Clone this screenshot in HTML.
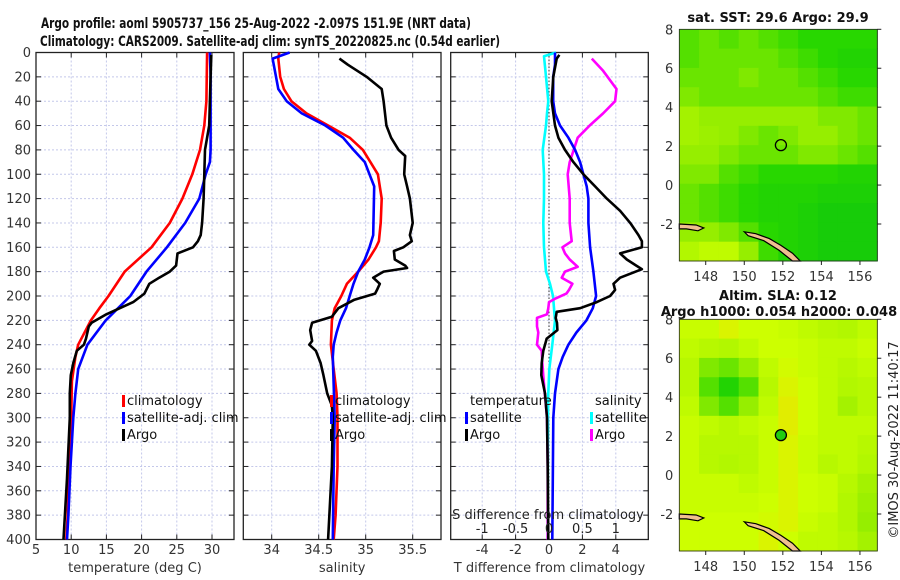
<!DOCTYPE html>
<html><head><meta charset="utf-8"><style>
html,body{margin:0;padding:0;background:#fff;}
svg{display:block;font-family:"DejaVu Sans","Liberation Sans",sans-serif;}
</style></head><body>
<svg id="chart" width="900" height="580" viewBox="0 0 900 580" xmlns="http://www.w3.org/2000/svg">
<rect width="900" height="580" fill="#fff"/>
<text x="256" y="28" font-size="14" font-weight="bold" text-anchor="middle" textLength="430" lengthAdjust="spacingAndGlyphs" fill="#111">Argo profile: aoml 5905737_156 25-Aug-2022 -2.097S 151.9E (NRT data)</text>
<text x="270" y="46" font-size="14" font-weight="bold" text-anchor="middle" textLength="460" lengthAdjust="spacingAndGlyphs" fill="#111">Climatology: CARS2009. Satellite-adj clim: synTS_20220825.nc (0.54d earlier)</text>
<g id="layer"></g>
</svg>
<script>
// ---------- data ----------
const depthTicks=[0,20,40,60,80,100,120,140,160,180,200,220,240,260,280,300,320,340,360,380,400];
const tTicks=[5,10,15,20,25,30];
const sTicks=[34,34.5,35,35.5];
const tdTicks=[-4,-2,0,2,4];
const sdTicks=[-1,-0.5,0,0.5,1];
const sdTickLabels=["-1","-0.5","0","0.5","1"];

const climTdep=[0,40,60,80,100,120,140,160,180,200,210,220,240,250,270,300,340,380,400];
const climT=[29.3,29.2,28.9,28.3,27.2,25.8,24.0,21.4,17.6,15.3,14.0,12.8,11.0,10.6,10.1,10.0,9.7,9.5,9.3];
const satTdep=[0,20,80,90,100,120,140,160,180,200,220,240,260,280,300,340,380,400];
const satT=[29.7,29.8,29.8,29.7,29.1,28.2,26.2,23.6,20.7,18.4,14.9,12.3,11.0,10.6,10.3,9.9,9.6,9.4];
const argoTdep=[2,20,60,80,100,120,140,150,155,160,165,175,180,185,190,198,205,215,222,225,235,240,245,255,265,280,300,350,400];
const argoT=[29.9,29.8,29.6,29.0,28.9,28.8,28.6,28.4,28.0,27.3,25.1,24.9,24.0,22.5,21.1,20.4,18.8,15.0,12.9,12.5,12.1,11.8,10.8,10.3,9.95,9.8,9.8,9.4,8.9];

const climSdep=[0,5,20,30,40,50,60,70,80,90,100,120,140,155,160,170,180,190,200,210,220,240,260,280,300,340,380,400];
const climS=[34.08,34.07,34.09,34.13,34.21,34.37,34.60,34.83,34.97,35.05,35.13,35.17,35.16,35.14,35.11,35.03,34.92,34.80,34.74,34.67,34.64,34.63,34.66,34.69,34.70,34.70,34.68,34.66];
const satSdep=[0,5,30,40,50,60,70,80,90,100,110,150,160,170,180,190,200,210,220,230,240,250,300,340,400];
const satS=[34.19,34.01,34.07,34.16,34.32,34.57,34.76,34.87,34.99,35.04,35.09,35.08,35.04,34.99,34.92,34.87,34.83,34.79,34.73,34.69,34.66,34.65,34.67,34.66,34.65];
const argoSdep=[5,10,20,30,40,60,70,80,85,100,110,120,140,150,155,160,163,170,175,177,180,185,190,195,198,203,210,217,222,228,237,240,245,255,265,280,290,300,340,400];
const argoS=[34.72,34.81,35.01,35.17,35.19,35.22,35.27,35.35,35.42,35.41,35.44,35.47,35.50,35.47,35.49,35.40,35.30,35.31,35.42,35.44,35.19,35.08,35.15,35.12,35.10,34.88,34.71,34.64,34.43,34.41,34.43,34.40,34.47,34.52,34.55,34.59,34.64,34.65,34.64,34.60];

const dTsatDep=[0,10,20,40,50,60,70,80,90,100,110,120,140,160,180,200,210,220,230,240,250,260,280,300,400];
const dTsat=[0.36,0.36,0.25,0.25,0.36,0.66,1.16,1.56,1.86,2.06,2.26,2.36,2.36,2.46,2.66,2.82,2.62,2.24,1.64,1.16,0.82,0.56,0.36,0.26,0.2];
const dTargoDep=[2,5,20,40,60,70,80,90,100,110,120,130,140,150,155,160,165,170,178,180,185,190,195,200,205,210,213,218,222,228,235,240,245,255,265,280,300,340,400];
const dTargo=[0.62,0.46,0.26,0.16,0.36,0.56,0.96,1.46,2.06,2.76,3.46,4.26,4.86,5.36,5.56,5.56,4.26,4.66,5.56,5.2,4.26,3.86,3.96,3.66,2.86,1.86,0.46,0.40,0.48,0.5,-0.14,-0.24,-0.34,-0.44,-0.46,-0.24,-0.12,-0.08,-0.04];
const dSsatDep=[0,3,20,40,50,60,80,100,120,140,160,180,190,200,220,240,260,280,300,400];
const dSsat=[0.105,-0.075,-0.045,-0.01,-0.03,-0.045,-0.094,-0.075,-0.075,-0.085,-0.075,-0.045,0.015,0.06,0.09,0.05,0.005,-0.01,-0.015,-0.02];
const dSargoDep=[5,15,30,40,50,60,70,80,90,100,120,140,155,160,165,170,176,180,185,190,195,198,202,205,210,215,218,225,230,240,245,255,270,300,340,400];
const dSargo=[0.64,0.81,1.01,0.99,0.81,0.61,0.43,0.37,0.31,0.28,0.31,0.31,0.34,0.20,0.24,0.31,0.43,0.24,0.19,0.35,0.30,0.26,0.10,0.0,-0.01,-0.03,-0.18,-0.18,-0.16,-0.18,-0.11,-0.10,-0.08,-0.03,-0.02,-0.02];

const lonTicks=[148,150,152,154,156];
const latTicks=[-2,0,2,4,6,8];
const sstGrid=[
[0.45,0.5,0.45,0.5,0.45,0.4,0.35,0.35,0.35,0.35],
[0.45,0.5,0.5,0.5,0.5,0.45,0.4,0.35,0.3,0.3],
[0.5,0.5,0.5,0.55,0.5,0.5,0.45,0.4,0.35,0.35],
[0.55,0.5,0.5,0.5,0.5,0.5,0.5,0.45,0.4,0.4],
[0.65,0.6,0.6,0.6,0.6,0.6,0.6,0.55,0.55,0.5],
[0.65,0.62,0.6,0.55,0.5,0.55,0.6,0.6,0.55,0.5],
[0.6,0.6,0.55,0.5,0.5,0.5,0.55,0.55,0.5,0.45],
[0.55,0.55,0.45,0.4,0.35,0.35,0.35,0.35,0.3,0.3],
[0.5,0.45,0.4,0.35,0.3,0.3,0.3,0.25,0.25,0.25],
[0.5,0.45,0.4,0.35,0.3,0.3,0.25,0.2,0.2,0.2],
[0.6,0.6,0.55,0.45,0.35,0.3,0.25,0.2,0.2,0.2],
[0.7,0.75,0.75,0.6,0.4,0.3,0.25,0.2,0.2,0.2]];
const slaGrid=[
[0.78,0.78,0.85,0.8,0.8,0.78,0.75,0.72,0.7,0.75],
[0.75,0.72,0.7,0.75,0.8,0.8,0.78,0.75,0.75,0.78],
[0.72,0.55,0.5,0.6,0.75,0.82,0.78,0.75,0.72,0.75],
[0.72,0.45,0.3,0.45,0.72,0.85,0.8,0.75,0.7,0.72],
[0.75,0.55,0.45,0.6,0.75,0.88,0.8,0.75,0.65,0.72],
[0.78,0.75,0.72,0.75,0.78,0.88,0.8,0.75,0.75,0.75],
[0.78,0.72,0.72,0.72,0.78,0.85,0.78,0.75,0.75,0.72],
[0.78,0.72,0.7,0.72,0.78,0.85,0.78,0.72,0.75,0.7],
[0.78,0.78,0.78,0.75,0.78,0.85,0.8,0.78,0.72,0.65],
[0.78,0.78,0.78,0.78,0.8,0.85,0.8,0.78,0.7,0.62],
[0.8,0.8,0.8,0.8,0.82,0.85,0.78,0.75,0.7,0.6],
[0.8,0.8,0.8,0.8,0.85,0.8,0.75,0.75,0.72,0.65]];
const floatLon=151.9, floatLat=2.05;

// ---------- helpers ----------
const NS="http://www.w3.org/2000/svg";
const layer=document.getElementById('layer');
function mk(tag,attrs,parent){const e=document.createElementNS(NS,tag);for(const k in attrs)e.setAttribute(k,attrs[k]);(parent||layer).appendChild(e);return e;}
const Y0=52.5,Y1=539.5;
const yD=d=>Y0+d*(Y1-Y0)/400;
const GRID="#c4c8ea";

function panel(name,x0,x1,xs,xticks,xlabels,ytickLabels,title){
  const g=mk('g',{});
  
  
  xticks.forEach(v=>{const x=xs(v);
    const l=mk('line',{x1:x,x2:x,y1:Y0,y2:Y1,stroke:GRID,'stroke-width':1,'stroke-dasharray':'2,2'},g);
    
    
    mk('line',{x1:x,x2:x,y1:Y1,y2:Y1-5,stroke:'#222'},g);
    mk('line',{x1:x,x2:x,y1:Y0,y2:Y0+5,stroke:'#222'},g);
  });
  depthTicks.forEach(d=>{const y=yD(d);
    const l=mk('line',{x1:x0,x2:x1,y1:y,y2:y,stroke:GRID,'stroke-width':1,'stroke-dasharray':'2,2'},g);
    
    
    mk('line',{x1:x0,x2:x0+5,y1:y,y2:y,stroke:'#222'},g);
    mk('line',{x1:x1,x2:x1-5,y1:y,y2:y,stroke:'#222'},g);
    if(ytickLabels){const t=mk('text',{x:x0-5,y:y+4.5,'font-size':13,'text-anchor':'end',fill:'#333'},g);t.textContent=d;
      
      }
  });
  const fr=mk('rect',{x:x0,y:Y0,width:x1-x0,height:Y1-Y0,fill:'none',stroke:'#222','stroke-width':1.3},g);
  
  
  xticks.forEach((v,i)=>{const t=mk('text',{x:xs(v),y:554,'font-size':13,'text-anchor':'middle',fill:'#333'},g);t.textContent=xlabels[i];
    
    });
  const tt=mk('text',{x:(x0+x1)/2,y:572,'font-size':13,'text-anchor':'middle',fill:'#333'},g);tt.textContent=title;
  
  
  return g;
}
function line(g,name,xs,vals,deps,color){
  const pts=vals.map((v,i)=>xs(v).toFixed(1)+','+yD(deps[i]).toFixed(1)).join(' ');
  const p=mk('polyline',{points:pts,fill:'none',stroke:color,'stroke-width':2.6,'stroke-linejoin':'round'},g);
  
  
}
function legend(g,x,y,color,label,name){
  const r=mk('rect',{x:x,y:y-10,width:3,height:12,fill:color},g);
  
  
  const t=mk('text',{x:x+5,y:y,'font-size':13,fill:'#111'},g);t.textContent=label;
  
  
}

// ---------- panel 1 temperature ----------
const xT=v=>36+(v-5)*7.04;
const p1=panel('temperature-panel',36,234,xT,tTicks,tTicks.map(String),true,'temperature (deg C)');
line(p1,'climatology-temperature-line',xT,climT,climTdep,'#ff0000');
line(p1,'satellite-temperature-line',xT,satT,satTdep,'#0000ff');
line(p1,'argo-temperature-line',xT,argoT,argoTdep,'#000000');
legend(p1,122,405,'#ff0000','climatology','legend-climatology');
legend(p1,122,422,'#0000ff','satellite-adj. clim','legend-satellite');
legend(p1,122,439,'#000000','Argo','legend-argo');

// ---------- panel 2 salinity ----------
const xS=v=>271.7+(v-34)*94;
const p2=panel('salinity-panel',243.3,441,xS,sTicks,["34","34.5","35","35.5"],false,'salinity');
line(p2,'climatology-salinity-line',xS,climS,climSdep,'#ff0000');
line(p2,'satellite-salinity-line',xS,satS,satSdep,'#0000ff');
line(p2,'argo-salinity-line',xS,argoS,argoSdep,'#000000');
legend(p2,330,405,'#ff0000','climatology','legend-climatology-s');
legend(p2,330,422,'#0000ff','satellite-adj. clim','legend-satellite-s');
legend(p2,330,439,'#000000','Argo','legend-argo-s');

// ---------- panel 3 differences ----------
const xdT=v=>549+v*16.7;
const xdS=v=>549+v*66.8;
const p3=panel('difference-panel',450.7,648.3,xdT,tdTicks,tdTicks.map(String),false,'T difference from climatology');
const zl=mk('line',{x1:xdT(0),x2:xdT(0),y1:Y0,y2:Y1,stroke:'#333','stroke-width':1,'stroke-dasharray':'1.5,2'},p3);


line(p3,'satellite-s-diff-line',xdS,dSsat,dSsatDep,'#00ffff');
line(p3,'argo-s-diff-line',xdS,dSargo,dSargoDep,'#ff00ff');
line(p3,'satellite-t-diff-line',xdT,dTsat,dTsatDep,'#0000ff');
line(p3,'argo-t-diff-line',xdT,dTargo,dTargoDep,'#000000');
sdTicks.forEach((v,i)=>{const t=mk('text',{x:xdS(v),y:533,'font-size':13,'text-anchor':'middle',fill:'#222'},p3);t.textContent=sdTickLabels[i];
  
  });
{const t=mk('text',{x:548,y:519,'font-size':13,'text-anchor':'middle',fill:'#222'},p3);t.textContent='S difference from climatology';
 
 }
{const t=mk('text',{x:470,y:405,'font-size':13,fill:'#111'},p3);t.textContent='temperature';
 
 }
{const t=mk('text',{x:595,y:405,'font-size':13,fill:'#111'},p3);t.textContent='salinity';
 
 }
legend(p3,465,422,'#0000ff','satellite','legend-t-satellite');
legend(p3,465,439,'#000000','Argo','legend-t-argo');
legend(p3,590,422,'#00ffff','satellite','legend-s-satellite');
legend(p3,590,439,'#ff00ff','Argo','legend-s-argo');

// ---------- maps ----------
const LON0=146.63,LON1=156.9,LAT0=-3.9,LAT1=8;
const stops=[[0,[0,190,20]],[0.35,[40,215,0]],[0.6,[150,238,0]],[0.8,[205,255,0]],[1,[255,210,0]]];
function cmap(v){for(let i=1;i<stops.length;i++){if(v<=stops[i][0]){const a=stops[i-1],b=stops[i],f=(v-a[0])/(b[0]-a[0]);
  return 'rgb('+a[1].map((c,k)=>Math.round(c+(b[1][k]-c)*f)).join(',')+')';}}return 'rgb(255,210,0)';}
function map(name,top,bot,grid,circleFill){
  const L=679.3,R=877.3;
  const xm=v=>L+(v-LON0)*(R-L)/(LON1-LON0);
  const ym=v=>top+(LAT1-v)*(bot-top)/(LAT1-LAT0);
  const g=mk('g',{});
  
  
  const nr=grid.length,nc=grid[0].length;
  const cw=(R-L)/nc,ch=(bot-top)/nr;
  grid.forEach((row,r)=>row.forEach((v,c)=>{
    const cell=mk('rect',{x:L+c*cw,y:top+r*ch,width:cw+0.5,height:ch+0.5,fill:cmap(v)},g);
    
    
  }));
  const land1=[[146.63,-2.0],[147.5,-2.05],[147.9,-2.2],[147.6,-2.35],[147.0,-2.25],[146.63,-2.25]];
  const land2=[[150.0,-2.4],[150.6,-2.5],[151.3,-2.75],[151.9,-3.1],[152.5,-3.5],[152.9,-3.9],[152.5,-3.9],[151.8,-3.35],[151.0,-2.85],[150.2,-2.6]];
  [land1,land2].forEach((poly,i)=>{const p=mk('polygon',{points:poly.map(q=>xm(q[0]).toFixed(1)+','+ym(q[1]).toFixed(1)).join(' '),fill:'#f0c090',stroke:'#000','stroke-width':1.2},g);
    
    });
  const c=mk('circle',{cx:xm(floatLon),cy:ym(floatLat),r:5.5,fill:circleFill,stroke:'#000','stroke-width':1.3},g);
  
  
  mk('rect',{x:L,y:top,width:R-L,height:bot-top,fill:'none',stroke:'#222','stroke-width':0.8},g);
  lonTicks.forEach(v=>{const t=mk('text',{x:xm(v),y:bot+20,'font-size':13,'text-anchor':'middle',fill:'#333'},g);t.textContent=v;
    
    
    mk('line',{x1:xm(v),x2:xm(v),y1:bot,y2:bot+4,stroke:'#222'},g);});
  latTicks.forEach(v=>{const t=mk('text',{x:L-6,y:ym(v)+5,'font-size':13,'text-anchor':'end',fill:'#333'},g);t.textContent=v;
    
    
    mk('line',{x1:R,x2:R+4,y1:ym(v),y2:ym(v),stroke:'#222'},g);});
}
map('sst-map',29.3,261,sstGrid,'none');
map('sla-map',319.3,551,slaGrid,'#22cc11');
[['sst-map-title','sat. SST: 29.6 Argo: 29.9',778,22],['sla-map-title-1','Altim. SLA: 0.12',778,300],['sla-map-title-2','Argo h1000: 0.054 h2000: 0.048',779,316]].forEach(a=>{
  const t=mk('text',{x:a[2],y:a[3],'font-size':13,'font-weight':'bold','text-anchor':'middle',fill:'#111'});t.textContent=a[1];
  
  });
{const t=mk('text',{x:0,y:0,'font-size':13,'text-anchor':'middle',fill:'#222',transform:'translate(898,440) rotate(-90)'});t.textContent='©IMOS 30-Aug-2022 11:40:17';
 
 }
</script>
</body></html>
